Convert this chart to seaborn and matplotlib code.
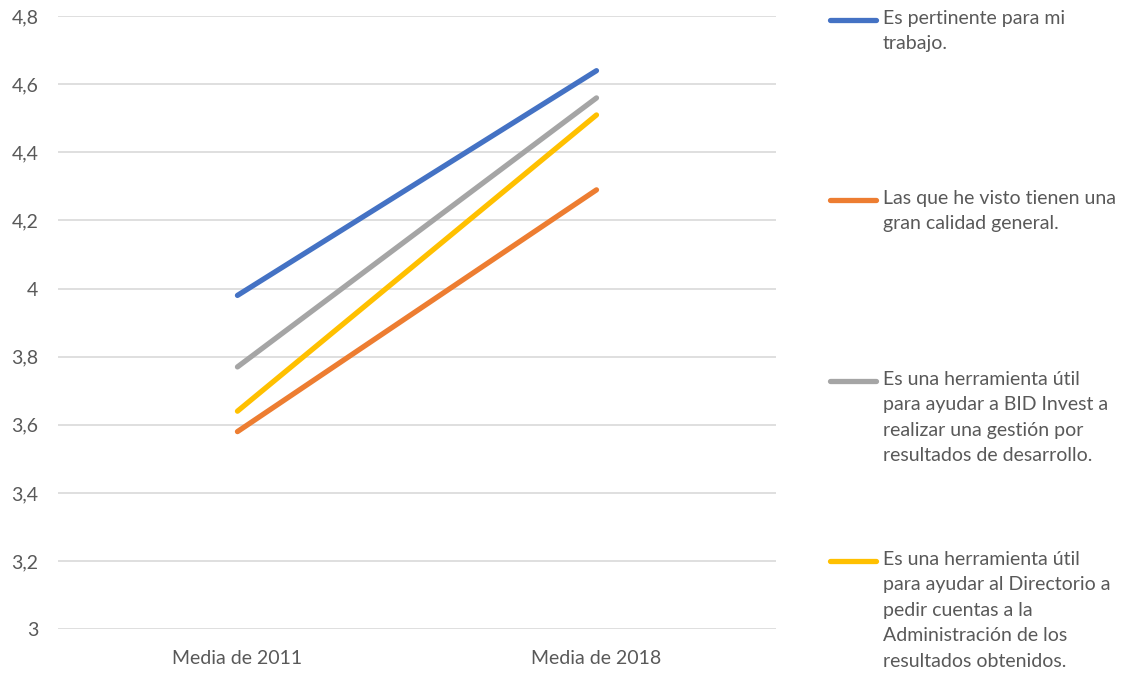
import seaborn as sns
import pandas as pd
import matplotlib.pyplot as plt
from matplotlib.lines import Line2D

# data
periodos = ['Media de 2011', 'Media de 2018']
series = ['Es pertinente para mi\ntrabajo.',
          'Las que he visto tienen una\ngran calidad general.',
          'Es una herramienta útil\npara ayudar a BID Invest a\nrealizar una gestión por\nresultados de desarrollo.',
          'Es una herramienta útil\npara ayudar al Directorio a\npedir cuentas a la\nAdministración de los\nresultados obtenidos.']
pertinente = [3.98, 4.64]
calidad = [3.58, 4.29]
bid_invest = [3.77, 4.56]
directorio = [3.64, 4.51]
yticks = [3, 3.2, 3.4, 3.6, 3.8, 4, 4.2, 4.4, 4.6, 4.8]
ytick_labels = ['3', '3,2', '3,4', '3,6', '3,8', '4', '4,2', '4,4', '4,6', '4,8']

palette = ['#4472C4', '#ED7D31', '#A5A5A5', '#FFC000']
txt_col = '#595959'

df = pd.DataFrame({
    'Periodo': periodos * 4,
    'Media': pertinente + calidad + bid_invest + directorio,
    'Serie': [s for s in series for _ in periodos],
})

sns.set_style("white")
plt.rcParams['font.family'] = ['Lato', 'DejaVu Sans']

fig = plt.figure(figsize=(11.32, 6.75), dpi=100)
ax = fig.add_axes([0.0512, 0.068, 0.6343, 0.908])

sns.lineplot(data=df, x='Periodo', y='Media', hue='Serie', hue_order=series,
             palette=palette, sort=False, linewidth=3.8, solid_capstyle='round',
             legend=False, ax=ax)

ax.set_xlim(-0.5, 1.5)
ax.set_ylim(3, 4.8)
ax.set_yticks(yticks)
ax.set_yticklabels(ytick_labels)
ax.yaxis.grid(True, color='#D9D9D9', linewidth=1.2)
ax.set_axisbelow(True)
sns.despine(ax=ax, left=True, bottom=True)
ax.tick_params(axis='y', length=0, pad=14, labelsize=14, labelcolor=txt_col)
ax.tick_params(axis='x', length=0, pad=15, labelsize=14, labelcolor=txt_col)
ax.set_xlabel('')
ax.set_ylabel('')

# legend on the right, handle next to first text line
W, H = 1132, 675
ys = [20, 200, 381, 561]
for lab, col, y in zip(series, palette, ys):
    fig.add_artist(Line2D([830 / W, 876 / W], [1 - y / H, 1 - y / H], color=col,
                          linewidth=3.8, solid_capstyle='round'))
    fig.text(883 / W, 1 - (y - 10) / H, lab, ha='left', va='top', fontsize=14,
             color=txt_col, linespacing=1.6)

fig.savefig('out.png', dpi=100)
